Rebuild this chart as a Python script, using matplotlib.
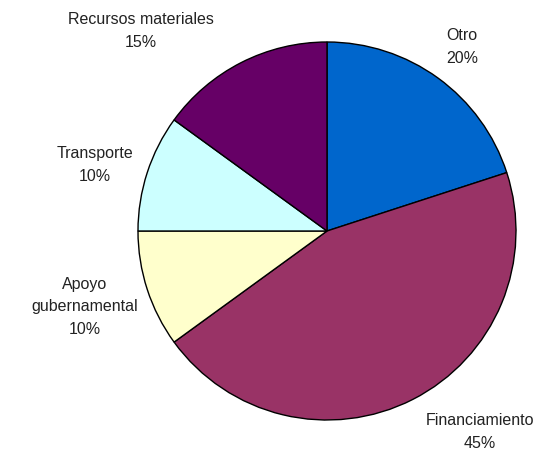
import matplotlib
matplotlib.use("Agg")
import matplotlib.pyplot as plt

categories = ["Otro", "Financiamiento", "Apoyo\ngubernamental", "Transporte", "Recursos materiales"]
values = [20, 45, 10, 10, 15]
colors = ["#0066CC", "#993366", "#FFFFCC", "#CCFFFF", "#660066"]
label_pos = [(462, 47), (480, 432), (85, 307), (95, 165), (141, 31)]

W, H = 556, 459
fig = plt.figure(figsize=(W / 100, H / 100), dpi=100)
ax = fig.add_axes([0, 0, 1, 1])
ax.set_xlim(0, W)
ax.set_ylim(0, H)
ax.set_aspect("equal")
ax.axis("off")

ax.pie(values, colors=colors, startangle=90, counterclock=False,
       center=(327, H - 231), radius=189,
       wedgeprops=dict(edgecolor="black", linewidth=1.0))

for cat, val, (x, y) in zip(categories, values, label_pos):
    ax.text(x, H - y, f"{cat}\n{val}%", ha="center", va="center",
            fontsize=11.5, family="Liberation Sans", color="#222222",
            linespacing=1.65)

ax.set_xlim(0, W)
ax.set_ylim(0, H)
fig.savefig("out.png", dpi=100)
